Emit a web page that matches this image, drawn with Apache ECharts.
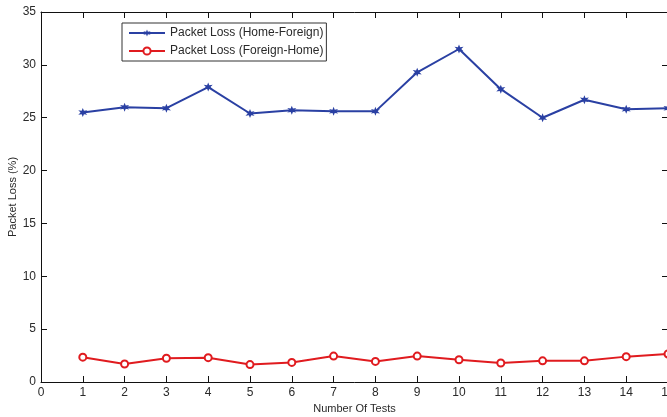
<!DOCTYPE html>
<html>
<head>
<meta charset="utf-8">
<script src="https://cdn.jsdelivr.net/npm/echarts@6/dist/echarts.min.js"></script>
<style>
html,body{margin:0;padding:0;background:#fff;}
#c{width:667px;height:417px;}
</style>
</head>
<body>
<div id="c"></div>
<script>
var tests = [1,2,3,4,5,6,7,8,9,10,11,12,13,14,15];
var homeForeign = [25.5,26.0,25.9,27.9,25.4,25.7,25.6,25.6,29.3,31.5,27.7,25.0,26.7,25.8,25.9];
var foreignHome = [2.35,1.7,2.25,2.3,1.65,1.85,2.45,1.95,2.45,2.1,1.8,2.0,2.0,2.4,2.65];
var yTicks = [0,5,10,15,20,25,30,35];

var star = 'path://M0,-10 L2.2,-3.8 L8.7,-5 L4.4,0 L8.7,5 L2.2,3.8 L0,10 L-2.2,3.8 L-8.7,5 L-4.4,0 L-8.7,-5 L-2.2,-3.8 Z';
var font = '"Liberation Sans", Arial, sans-serif';
var txt = '#2a2a2a';

function pairs(xs, ys){ return xs.map(function(x,i){ return [x, ys[i]]; }); }

var chart = echarts.init(document.getElementById('c'), null, {renderer:'canvas'});
chart.setOption({
  animation:false,
  backgroundColor:'#fff',
  grid:{left:41, right:-1, top:12, bottom:35, containLabel:false, outerBoundsMode:'none'},
  legend:{
    left:122, top:23, orient:'vertical',
    itemWidth:36, itemHeight:9, itemGap:6,
    padding:[4,3,4,6],
    borderColor:'#333', borderWidth:1, backgroundColor:'#fff',
    textStyle:{fontFamily:font, fontSize:12, color:txt},
    data:['Packet Loss (Home-Foreign)','Packet Loss (Foreign-Home)']
  },
  xAxis:[{
    type:'value', min:0, max:15, interval:1,
    name:'Number Of Tests', nameLocation:'middle', nameGap:21, nameMoveOverlap:false,
    nameTextStyle:{fontFamily:font, fontSize:11, color:txt},
    axisLine:{onZero:false, lineStyle:{color:'#111', width:1}},
    axisTick:{inside:true, length:6, lineStyle:{color:'#111'}},
    axisLabel:{fontFamily:font, fontSize:12, color:txt, margin:5},
    splitLine:{show:false}
  },{
    type:'value', position:'top', min:0, max:15, interval:1,
    axisLine:{show:true, onZero:false, lineStyle:{color:'#111', width:1}},
    axisTick:{inside:true, length:6, lineStyle:{color:'#111'}},
    axisLabel:{show:false}, splitLine:{show:false}
  }],
  yAxis:[{
    type:'value', min:0, max:35, interval:5,
    name:'Packet Loss (%)', nameLocation:'middle', nameGap:23, nameMoveOverlap:false,
    nameTextStyle:{fontFamily:font, fontSize:11, color:txt},
    axisLine:{show:true, onZero:false, lineStyle:{color:'#111', width:1}},
    axisTick:{show:true, inside:true, length:6, lineStyle:{color:'#111'}},
    axisLabel:{fontFamily:font, fontSize:12, color:txt, margin:5,
      formatter:function(v){ return yTicks.indexOf(v) >= 0 ? String(v) : ''; }},
    splitLine:{show:false}
  },{
    type:'value', position:'right', min:0, max:35, interval:5,
    axisLine:{show:true, onZero:false, lineStyle:{color:'#111', width:1}},
    axisTick:{show:true, inside:true, length:6, lineStyle:{color:'#111'}},
    axisLabel:{show:false}, splitLine:{show:false}
  }],
  series:[{
    name:'Packet Loss (Home-Foreign)', type:'line',
    data:pairs(tests, homeForeign),
    symbol:star, symbolSize:9,
    lineStyle:{color:'#2a40a3', width:2},
    itemStyle:{color:'#2a40a3'}
  },{
    name:'Packet Loss (Foreign-Home)', type:'line',
    data:pairs(tests, foreignHome),
    symbol:'emptyCircle', symbolSize:7,
    lineStyle:{color:'#e01b1f', width:2},
    itemStyle:{color:'#e01b1f', borderWidth:1.5}
  }]
});
</script>
</body>
</html>
